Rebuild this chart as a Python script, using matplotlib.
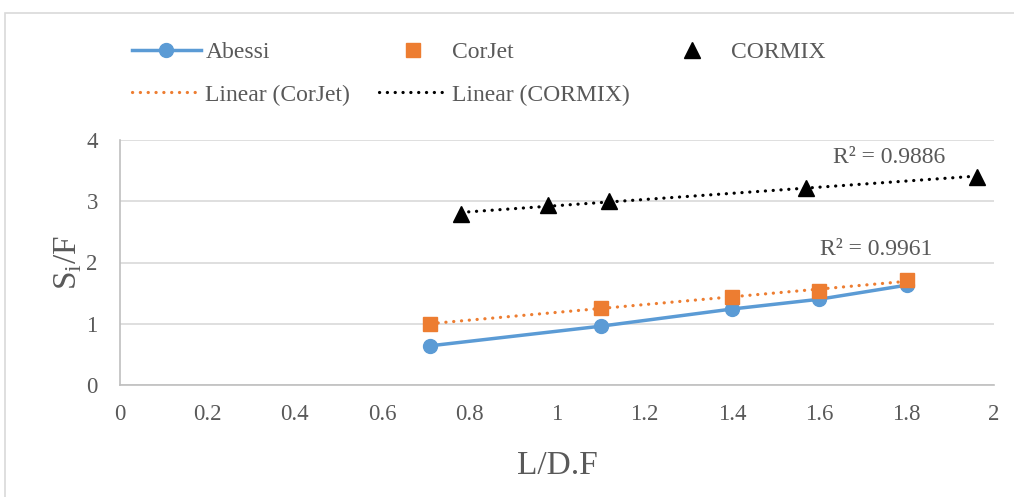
import numpy as np
import matplotlib.pyplot as plt
from matplotlib.patches import Rectangle

plt.rcParams['font.family'] = ['Liberation Serif', 'DejaVu Serif']
plt.rcParams['mathtext.fontset'] = 'custom'
plt.rcParams['mathtext.rm'] = 'Liberation Serif'

# data
abessi_x = [0.71, 1.10, 1.40, 1.60, 1.80]
abessi_y = [0.64, 0.96, 1.24, 1.40, 1.63]
corjet_x = [0.71, 1.10, 1.40, 1.60, 1.80]
corjet_y = [1.00, 1.26, 1.44, 1.54, 1.71]
cormix_x = [0.78, 0.98, 1.12, 1.57, 1.96]
cormix_y = [2.79, 2.94, 3.00, 3.22, 3.40]
r2_cormix = "R² = 0.9886"
r2_corjet = "R² = 0.9961"

grey = '#595959'
blue = '#5B9BD5'
orange = '#ED7D31'

fig = plt.figure(figsize=(10.14, 4.97), dpi=100)
ax = fig.add_axes([120/1014, 1-385/497, 874/1014, 245/497])

# chart border
fig.patches.append(Rectangle((5/1014, -0.05), 1.1, 1-13/497+0.05, transform=fig.transFigure,
                             fill=False, edgecolor='#d9d9d9', lw=1.2))

ax.plot(abessi_x, abessi_y, color=blue, lw=2.5, marker='o', ms=10, label='Abessi', zorder=4)
ax.plot(corjet_x, corjet_y, ls='none', marker='s', ms=10, color=orange, label='CorJet', zorder=5)
ax.plot(cormix_x, cormix_y, ls='none', marker='^', ms=11, color='black', label='CORMIX', zorder=5)

# linear trendlines
for xs, ys, c, name in [(corjet_x, corjet_y, orange, 'Linear (CorJet)'),
                        (cormix_x, cormix_y, 'black', 'Linear (CORMIX)')]:
    k, b = np.polyfit(xs, ys, 1)
    xx = np.array([min(xs), max(xs)])
    ax.plot(xx, k*xx + b, color=c, lw=2.3, ls=(0, (0.05, 2.4)), dash_capstyle='round',
            label=name, zorder=3)

ax.text(1.76, 3.71, r2_cormix, fontsize=17, color=grey, ha='center', va='center')
ax.text(1.73, 2.22, r2_corjet, fontsize=17, color=grey, ha='center', va='center')

ax.set_xlim(0, 2)
ax.set_ylim(0, 4)
ax.set_xticks(np.arange(0, 2.01, 0.2))
ax.set_xticklabels(['0', '0.2', '0.4', '0.6', '0.8', '1', '1.2', '1.4', '1.6', '1.8', '2'])
ax.set_yticks([0, 1, 2, 3, 4])
ax.grid(axis='y', color='#d9d9d9', lw=1.2)
ax.set_axisbelow(True)
for s in ['top', 'right']:
    ax.spines[s].set_visible(False)
for s in ['left', 'bottom']:
    ax.spines[s].set_color('#bfbfbf')
    ax.spines[s].set_linewidth(1.2)
ax.tick_params(axis='x', length=0, labelsize=16.5, colors=grey, pad=14)
ax.tick_params(axis='y', length=0, labelsize=16.5, colors=grey, pad=16)
ax.set_xlabel('L/D.F', fontsize=24, color=grey, labelpad=18)
ax.set_ylabel(r'S$_\mathregular{i}$/F', fontsize=24, color=grey, labelpad=2)

h, l = ax.get_legend_handles_labels()
order = [0, 3, 1, 4, 2]
fig.legend([h[i] for i in order], [l[i] for i in order], ncol=3,
           loc='upper left', bbox_to_anchor=(111/1014, 1-20/497), frameon=False,
           fontsize=17, labelcolor=grey, handlelength=2.9, handletextpad=0.2,
           columnspacing=1.2, labelspacing=0.9)

fig.savefig('out.png', dpi=100)
